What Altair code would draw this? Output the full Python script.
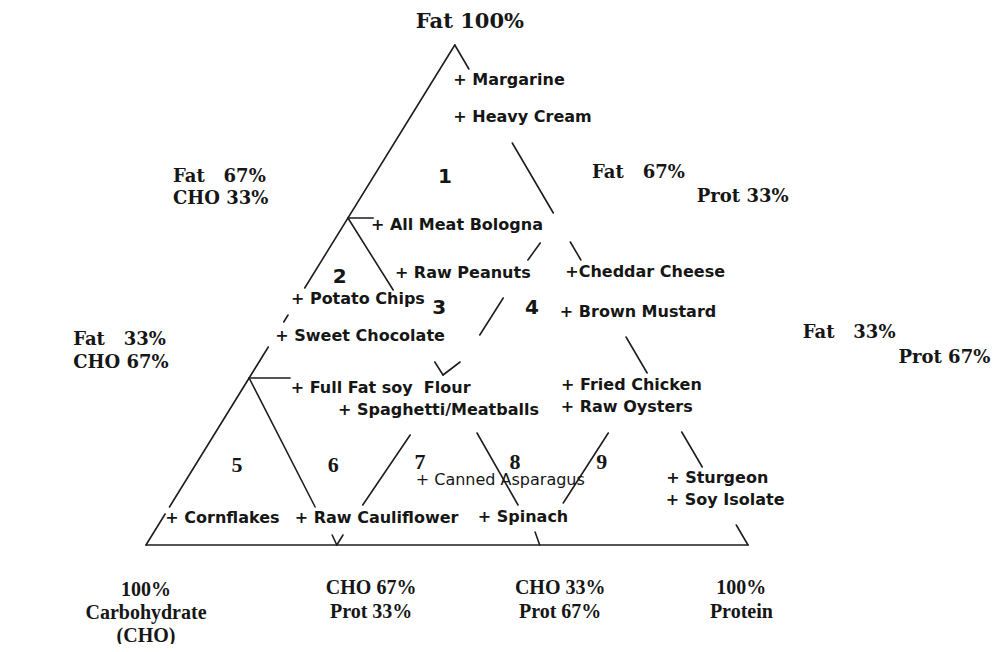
import altair as alt
import pandas as pd

# Lean of the apex in the drawn triangle (fraction of the base length)
K = 0.513
NB = "\u00a0"

# ---------------- Foods: share of energy (%) from fat and protein; CHO = rest
food_labels = ["+ Margarine", "+ Heavy Cream", "+ All Meat Bologna", "+ Raw Peanuts",
               "+Cheddar Cheese", "+ Potato Chips", "+ Sweet Chocolate", "+ Brown Mustard",
               "+ Full Fat soy" + NB + NB + "Flour", "+ Spaghetti/Meatballs", "+ Fried Chicken",
               "+ Raw Oysters", "+ Canned Asparagus", "+ Sturgeon", "+ Soy Isolate",
               "+ Cornflakes", "+ Raw Cauliflower", "+ Spinach"]
food_fat = [93, 85.6, 64, 54.4, 54.6, 49.2, 41.8, 46.6, 31.4, 27, 32, 27.6,
            13, 13.4, 9, 5.4, 5.4, 5.6]
food_prot = [4.5, 8.3, 5.7, 14.6, 42.8, 0, 1.2, 46, 9.1, 19.2, 53.7, 55.9,
             39.3, 80.7, 82.9, 1.6, 23.1, 53.4]
food_bold = [True] * 12 + [False] + [True] * 5

# ---------------- Region numbers (composition of the label spot)
region_ids = ["1", "2", "3", "4", "5", "6", "7", "8", "9"]
region_fat = [73.6, 53.6, 47.4, 47.4, 16, 16, 16.6, 16.6, 16.6]
region_prot = [11.9, 4.7, 24.4, 39.8, 6.9, 22.9, 37, 52.8, 67.2]
region_serif = [False, False, False, False, True, True, True, True, True]

# ---------------- Drawn line pieces, endpoints as (Fat %, Prot %)
seg_fat_a = [100, 46, 39.6, 6.2, 100, 80.4, 60.6, 41.6, 22.6, 4, 0, 65.4, 33.4,
             65.4, 36.6, 22.4, 2.6, 60.4, 49.4, 36.6, 22, 2, 33.4, 2, 22.4]
seg_prot_a = [0, 0, 0, 0, 0, 19.6, 39.4, 58.4, 77.4, 96, 0, 0, 0,
              0, 29.2, 43.5, 63.3, 34.5, 34, 33.4, 32.6, 31.7, 0, 29.9, 65.3]
seg_fat_b = [51.4, 44.6, 7.6, 0, 95.2, 66.4, 57, 34.4, 15.6, 0, 0, 65.4, 33.4,
             51, 34, 8, 0, 57, 42, 34, 8, 0, 7.6, 0, 8.4]
seg_prot_b = [0, 0, 0, 0, 4.8, 33.6, 43, 65.6, 84.4, 100, 100, 4.2, 6.8,
              14.9, 31.9, 57.7, 65.4, 34.2, 33.9, 31.9, 31.9, 31.7, 24.2, 31.7, 65]

# ---------------- Corner / edge annotations (plot units: u along base, h = height)
side_text = ["Fat" + NB + NB + " 67%", "CHO 33%", "Fat" + NB + NB + " 67%", "Prot 33%",
             "Fat" + NB + NB + " 33%", "Prot 67%", "Fat" + NB + NB + " 33%", "CHO 67%"]
side_u = [0.0449, 0.0449, 0.741, 0.915, 1.091, 1.250, -0.121, -0.121]
side_h = [0.736, 0.692, 0.744, 0.696, 0.424, 0.374, 0.410, 0.364]

top_text = ["Fat 100%"]
top_u = [0.538]
top_h = [1.046]

bottom_text = ["100%", "Carbohydrate", "(CHO)", "CHO 67%", "Prot 33%",
               "CHO 33%", "Prot 67%", "100%", "Protein"]
bottom_u = [0, 0, 0, 0.374, 0.374, 0.688, 0.688, 0.989, 0.989]
bottom_h = [-0.090, -0.135, -0.181, -0.086, -0.133, -0.086, -0.133, -0.086, -0.133]


def tern_u(fat, prot):
    return prot / 100.0 + K * fat / 100.0


foods = pd.DataFrame({"label": food_labels, "fat": food_fat, "prot": food_prot,
                      "bold": food_bold})
foods["u"] = tern_u(foods["fat"], foods["prot"])
foods["h"] = foods["fat"] / 100.0

regions = pd.DataFrame({"id": region_ids, "fat": region_fat, "prot": region_prot,
                        "serif": region_serif})
regions["u"] = tern_u(regions["fat"], regions["prot"])
regions["h"] = regions["fat"] / 100.0

segs = pd.DataFrame({"fa": seg_fat_a, "pa": seg_prot_a, "fb": seg_fat_b, "pb": seg_prot_b})
segs["u1"] = tern_u(segs["fa"], segs["pa"])
segs["h1"] = segs["fa"] / 100.0
segs["u2"] = tern_u(segs["fb"], segs["pb"])
segs["h2"] = segs["fb"] / 100.0

side = pd.DataFrame({"t": side_text, "u": side_u, "h": side_h})
top = pd.DataFrame({"t": top_text, "u": top_u, "h": top_h})
bottom = pd.DataFrame({"t": bottom_text, "u": bottom_u, "h": bottom_h})

xs = alt.Scale(domain=[-0.2292, 1.4103], nice=False, zero=False)
ys = alt.Scale(domain=[-0.198, 1.074], nice=False, zero=False)
INK = "#161616"

lines = alt.Chart(segs).mark_rule(color="#1e1e1e", strokeWidth=1.6, strokeCap="round").encode(
    x=alt.X("u1:Q", scale=xs, axis=None),
    y=alt.Y("h1:Q", scale=ys, axis=None),
    x2="u2:Q", y2="h2:Q")


def txt(df, **kw):
    return alt.Chart(df).mark_text(color=INK, **kw).encode(
        x=alt.X("u:Q", scale=xs, axis=None),
        y=alt.Y("h:Q", scale=ys, axis=None))


food_bold_layer = txt(foods[foods["bold"]], align="left", baseline="middle", dx=-7,
                      font="DejaVu Sans", fontWeight="bold", fontSize=16).encode(text="label:N")
food_norm_layer = txt(foods[~foods["bold"]], align="left", baseline="middle", dx=-7,
                      font="DejaVu Sans", fontWeight="normal", fontSize=16).encode(text="label:N")
reg_sans = txt(regions[~regions["serif"]], align="center", baseline="middle",
               font="DejaVu Sans", fontWeight="bold", fontSize=20).encode(text="id:N")
reg_serif = txt(regions[regions["serif"]], align="center", baseline="middle",
                font="Liberation Serif", fontWeight="bold", fontSize=22).encode(text="id:N")
side_layer = txt(side, align="left", baseline="middle",
                 font="DejaVu Serif", fontWeight="bold", fontSize=18).encode(text="t:N")
top_layer = txt(top, align="center", baseline="middle",
                font="DejaVu Serif", fontWeight="bold", fontSize=21).encode(text="t:N")
bottom_layer = txt(bottom, align="center", baseline="middle",
                   font="Liberation Serif", fontWeight="bold", fontSize=20).encode(text="t:N")

chart = alt.layer(lines, food_bold_layer, food_norm_layer, reg_sans, reg_serif,
                  side_layer, top_layer, bottom_layer).properties(
    width=987, height=636, padding=0, autosize="none", background="white"
).configure_view(stroke=None)

chart.save("out.html", embed_options={"renderer": "svg", "actions": False})
